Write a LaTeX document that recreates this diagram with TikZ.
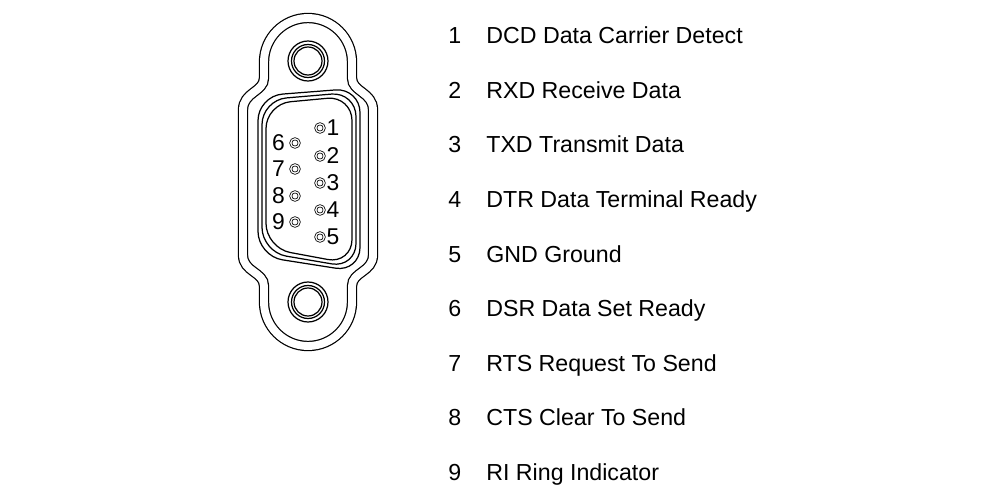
\documentclass[tikz,border=0pt]{standalone}
\usepackage{fontspec}
\setmainfont{Liberation Sans}
\usetikzlibrary{positioning}
\tikzset{
    shell/.style={line width=0.7pt, rounded corners=14},
    pin/.style={circle, draw, line width=0.45pt, inner sep=0pt, minimum size=4.8pt, double, double distance=0.7pt},
    pinlbl/.style={font=\fontsize{13}{15}\selectfont, inner sep=1pt},
    entry/.style={font=\fontsize{13.2}{15}\selectfont, anchor=base west, inner sep=0pt},
}
\begin{document}
\begin{tikzpicture}[x=0.02cm, y=-0.02cm]
    \useasboundingbox (0,0) rectangle (1000,500);
    
    % outline of flange (double line)
    \draw[line width=0.7pt, double=white, double distance=4.5pt]
        (264,62) arc (180:360:44) -- (352,78)
        .. controls (352,92) and (373,92) .. (373,110) -- (373,255)
        .. controls (373,272) and (352,272) .. (352,286) -- (352,302)
        arc (0:180:44) -- (264,286)
        .. controls (264,272) and (243,272) .. (243,255) -- (243,110)
        .. controls (243,92) and (264,92) .. (264,78) -- cycle;
    
    % D shell, nested
    \foreach \d in {0,4,8}
        \draw[shell] (258+\d,96+\d) -- (360-\d,88+\d) -- (360-\d,272-\d) -- (258+\d,256-\d) -- cycle;
    
    % screw holes
    \foreach \n/\y in {top/61, bot/302} {
        \coordinate (hole\n) at (308,\y);
        \draw[line width=0.7pt] (hole\n) circle (20) circle (16.5) circle (14);
    }
    
    % pins
    \foreach \i/\y in {1/128, 2/156, 3/183, 4/210, 5/237} {
        \node[pin] (p\i) at (320,\y) {};
        \node[pinlbl, right=0pt of p\i] {\i};
    }
    \foreach \i/\y in {6/143, 7/169, 8/196, 9/222} {
        \node[pin] (p\i) at (295,\y) {};
        \node[pinlbl, left=2pt of p\i] {\i};
    }
    
    % signal list
    \foreach \i/\t [count=\k from 0] in {
        1/DCD Data Carrier Detect,
        2/RXD Receive Data,
        3/TXD Transmit Data,
        4/DTR Data Terminal Ready,
        5/GND Ground,
        6/DSR Data Set Ready,
        7/RTS Request To Send,
        8/CTS Clear To Send,
        9/RI Ring Indicator} {
        \node[entry] (n\i) at (448,44+54.5*\k) {\i};
        \node[entry] (t\i) at (486,44+54.5*\k) {\t};
    }
\end{tikzpicture}
\end{document}
